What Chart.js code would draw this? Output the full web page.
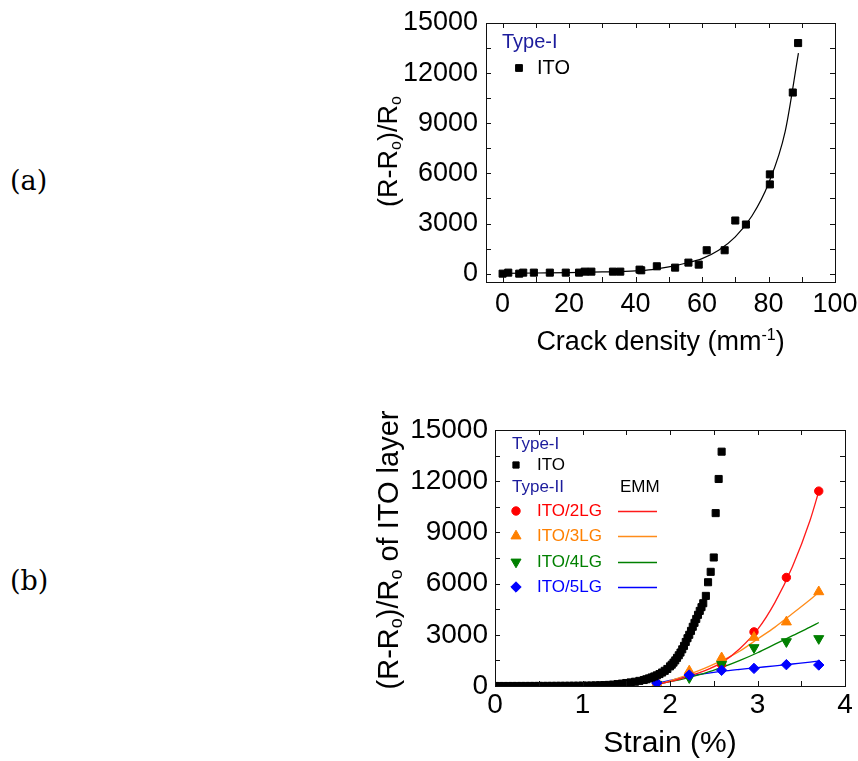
<!DOCTYPE html>
<html>
<head>
<meta charset="utf-8">
<script src="https://cdn.jsdelivr.net/npm/chart.js@4.4.1/dist/chart.umd.min.js"></script>
<style>
  html, body { margin: 0; padding: 0; background: #fff; }
  body { width: 858px; height: 761px; position: relative; overflow: hidden; }
  canvas { position: absolute; }
  #chartA { left: 360px; top: 0; }
  #chartB { left: 360px; top: 380px; }
  .panel { position: absolute; left: 10px; font-family: "DejaVu Serif", serif; font-size: 27px; line-height: 30px; color: #000; }
</style>
</head>
<body>
<div class="panel" style="top:166px">(a)</div>
<div class="panel" style="top:566px">(b)</div>
<canvas id="chartA" width="498" height="370"></canvas>
<canvas id="chartB" width="498" height="381"></canvas>
<script>
// (a) resistance change vs crack density (Type-I, ITO)
const crackDensity = [0, 1.7, 5, 6.2, 9.4, 14.2, 19, 23, 24.7, 26.7, 33.2, 35.4, 41.2, 41.7, 46.4, 51.9, 55.9, 59, 61.4, 66.8, 70, 73.2, 80.4, 80.4, 87.3, 88.9];
const crackResist = [0, 60, 0, 60, 60, 60, 60, 60, 120, 120, 120, 120, 240, 200, 440, 360, 660, 540, 1400, 1400, 3180, 2940, 5940, 5340, 10840, 13800];
const crackFitX = [0, 10, 20, 30, 40, 45, 50, 55, 60, 65, 70, 75, 80, 85, 89];
const crackFitY = [20, 40, 60, 100, 160, 240, 400, 620, 900, 1400, 2200, 3450, 5400, 8500, 13200];

// (b) resistance change of ITO layer vs strain
const strainITO = [0, 0.05, 0.1, 0.15, 0.2, 0.25, 0.3, 0.35, 0.4, 0.45, 0.5, 0.55, 0.6, 0.65, 0.7, 0.75, 0.8, 0.85, 0.9, 0.95, 1.0,
  1.05, 1.1, 1.15, 1.2, 1.25, 1.3, 1.35, 1.4, 1.45, 1.5, 1.55, 1.6, 1.65, 1.7,
  1.73, 1.76, 1.79, 1.82, 1.85, 1.88, 1.91, 1.94, 1.97, 2.0,
  2.02, 2.04, 2.06, 2.08, 2.1, 2.12, 2.14, 2.16, 2.18, 2.2,
  2.22, 2.24, 2.26, 2.28, 2.3, 2.32, 2.34, 2.36, 2.38,
  2.41, 2.435, 2.465, 2.5, 2.522, 2.556, 2.59];
const resistITO = [0, 0, 0, 0, 1, 1, 2, 2, 3, 3, 4, 5, 6, 7, 8, 9, 10, 12, 14, 16, 19,
  23, 28, 34, 42, 52, 64, 80, 110, 140, 175, 210, 250, 300, 350,
  395, 445, 500, 560, 625, 700, 790, 890, 1000, 1150,
  1250, 1370, 1500, 1650, 1800, 1960, 2150, 2350, 2580, 2800,
  3000, 3230, 3470, 3700, 3930, 4170, 4400, 4620, 4850,
  5280, 6080, 6690, 7530, 10130, 12130, 13730];

const strainLG = [1.85, 2.22, 2.59, 2.96, 3.33, 3.70];
const resist2LG = [150, 700, 1250, 3170, 6360, 11420];
const resist3LG = [150, 880, 1650, 2850, 3750, 5520];
const resist4LG = [100, 490, 1270, 2250, 2600, 2780];
const resist5LG = [170, 640, 920, 1030, 1250, 1230];

// EMM curves
const strainFit = [1.85, 2.0, 2.2, 2.4, 2.6, 2.8, 3.0, 3.2, 3.4, 3.6, 3.7];
const emm2LG = [100, 250, 550, 900, 1400, 2200, 3300, 4900, 7000, 9700, 11400];
const emm3LG = [80, 300, 650, 1050, 1500, 2050, 2750, 3450, 4250, 5050, 5500];
const emm4LG = [100, 250, 480, 750, 1100, 1500, 1950, 2450, 2950, 3450, 3720];
const emm5LG = [150, 330, 560, 730, 870, 980, 1080, 1180, 1290, 1400, 1460];

// ticks
const crackTicks = [0, 20, 40, 60, 80, 100];
const crackMinor = [10, 30, 50, 70, 90];
const resistTicks = [0, 3000, 6000, 9000, 12000, 15000];
const resistMinor = [1500, 4500, 7500, 10500, 13500];
const strainTicks = [0, 1, 2, 3, 4];
const strainMinor = [0.5, 1.5, 2.5, 3.5];

const FONT = '"Liberation Sans", Arial, Helvetica, sans-serif';
Chart.defaults.font.family = FONT;
Chart.defaults.color = '#000';

const pts = (xs, ys) => xs.map((x, i) => ({ x, y: ys[i] }));

// frame round the plot with inward ticks on all four sides
function framePlugin(xMajor, xMinor, yMajor, yMinor) {
  return {
    id: 'frame',
    afterDraw(chart) {
      const { ctx, chartArea: a, scales: { x, y } } = chart;
      const L = Math.round(a.left), T = Math.round(a.top), R = Math.round(a.right), B = Math.round(a.bottom);
      const len = 5;
      ctx.save();
      ctx.strokeStyle = '#111';
      ctx.lineWidth = 1;
      ctx.strokeRect(L + 0.5, T + 0.5, R - L, B - T);
      ctx.beginPath();
      xMajor.concat(xMinor).forEach(v => {
        const px = Math.round(x.getPixelForValue(v)) + 0.5;
        if (px < L + 2 || px > R - 1) return;
        ctx.moveTo(px, B); ctx.lineTo(px, B - len);
        ctx.moveTo(px, T); ctx.lineTo(px, T + len);
      });
      yMajor.concat(yMinor).forEach(v => {
        const py = Math.round(y.getPixelForValue(v)) + 0.5;
        if (py < T + 2 || py > B - 1) return;
        ctx.moveTo(L, py); ctx.lineTo(L + len, py);
        ctx.moveTo(R, py); ctx.lineTo(R - len, py);
      });
      ctx.stroke();
      ctx.restore();
    }
  };
}

// text with sub/superscripts: runs of {t, size, dy}
function drawRich(ctx, runs, x, y, angle, size) {
  ctx.save();
  ctx.translate(x, y);
  ctx.rotate(angle);
  let total = 0;
  runs.forEach(r => {
    ctx.font = (r.size || size) + 'px ' + FONT;
    r.w = ctx.measureText(r.t).width;
    total += r.w;
  });
  let cx = -total / 2;
  const base = 0.358 * size;
  ctx.textAlign = 'left';
  ctx.textBaseline = 'alphabetic';
  ctx.fillStyle = '#000';
  runs.forEach(r => {
    ctx.font = (r.size || size) + 'px ' + FONT;
    ctx.fillText(r.t, cx, base + (r.dy || 0));
    cx += r.w;
  });
  ctx.restore();
}

function titlePlugin(xRuns, xSize, xOff, yRuns, ySize, yX, yOff) {
  return {
    id: 'titles',
    afterDraw(chart) {
      const { ctx, chartArea: a } = chart;
      drawRich(ctx, xRuns, (a.left + a.right) / 2, a.bottom + xOff, 0, xSize);
      drawRich(ctx, yRuns, yX, (a.top + a.bottom) / 2 + yOff, -Math.PI / 2, ySize);
    }
  };
}

function marker(ctx, style, r, rot, color, x, y) {
  ctx.fillStyle = color;
  ctx.strokeStyle = color;
  ctx.lineWidth = 1;
  Chart.helpers.drawPoint(ctx, { pointStyle: style, radius: r, rotation: rot, borderWidth: 1 }, x, y);
}

function legendPlugin(items) {
  return {
    id: 'legendBox',
    afterDraw(chart) {
      const ctx = chart.ctx;
      ctx.save();
      ctx.textAlign = 'left';
      ctx.textBaseline = 'middle';
      items.forEach(it => {
        if (it.text) {
          ctx.font = it.size + 'px ' + FONT;
          ctx.fillStyle = it.color;
          ctx.fillText(it.text, it.x, it.y);
        }
        if (it.marker) marker(ctx, it.marker[0], it.marker[1], it.marker[2], it.marker[3], it.mx, it.y);
        if (it.line) {
          ctx.strokeStyle = it.line[2];
          ctx.lineWidth = 1.3;
          ctx.beginPath();
          ctx.moveTo(it.line[0], it.y + 0.5);
          ctx.lineTo(it.line[1], it.y + 0.5);
          ctx.stroke();
        }
      });
      ctx.restore();
    }
  };
}

function axis(min, max, ticks, size, pad, fitKey, fitVal) {
  return {
    type: 'linear', min, max,
    grid: { display: false, drawTicks: false },
    border: { display: false },
    ticks: { font: { size, lineHeight: 1.2 }, color: '#000', padding: pad, autoSkip: false, maxRotation: 0, minRotation: 0, callback: v => String(v) },
    afterBuildTicks: s => { s.ticks = ticks.map(v => ({ value: v })); },
    afterFit: s => {
      s[fitKey] = fitVal;
      // labels may run past the plot edge, as in the original
      s.paddingLeft = s.paddingRight = s.paddingTop = s.paddingBottom = 0;
    }
  };
}

const NAVY = '#1c1c9c';

// (a)
new Chart(document.getElementById('chartA'), {
  type: 'scatter',
  data: {
    datasets: [
      { label: 'ITO', data: pts(crackDensity, crackResist), pointStyle: 'rect', pointRadius: 5,
        backgroundColor: '#000', borderColor: '#000', borderWidth: 1, order: 0 },
      { label: 'fit', data: pts(crackFitX, crackFitY), showLine: true, pointRadius: 0, borderColor: '#000',
        borderWidth: 1.2, cubicInterpolationMode: 'monotone', order: 5 }
    ]
  },
  options: {
    responsive: false, animation: false, events: [],
    layout: { padding: { left: 0, top: 23, right: 23, bottom: 0 } },
    plugins: { legend: { display: false }, tooltip: { enabled: false } },
    scales: {
      x: axis(-5, 100, crackTicks, 27, 6, 'height', 88),
      y: axis(-500, 15000, resistTicks, 27, 8, 'width', 126)
    }
  },
  plugins: [
    framePlugin(crackTicks, crackMinor, resistTicks, resistMinor),
    titlePlugin([{ t: 'Crack density (mm' }, { t: '-1', size: 16, dy: -10 }, { t: ')' }], 27, 58,
      [{ t: '(R-R' }, { t: 'o', size: 16, dy: 4 }, { t: ')/R' }, { t: 'o', size: 16, dy: 4 }], 27, 27, -1),
    legendPlugin([
      { text: 'Type-I', x: 142, y: 42, size: 20, color: NAVY },
      { text: 'ITO', x: 177, y: 68, size: 20, color: '#000', marker: ['rect', 4.8, 0, '#000'], mx: 159 }
    ])
  ]
});

// (b)
const lgSet = (label, xs, ys, style, r, rot, color, order) => ({
  label, data: pts(xs, ys), pointStyle: style, pointRadius: r, rotation: rot,
  backgroundColor: color, borderColor: color, borderWidth: 1, order
});
const emmSet = (label, ys, color) => ({
  label, data: pts(strainFit, ys), showLine: true, pointRadius: 0, borderColor: color,
  borderWidth: 1.3, cubicInterpolationMode: 'monotone', order: 10
});

new Chart(document.getElementById('chartB'), {
  type: 'scatter',
  data: {
    datasets: [
      lgSet('ITO', strainITO, resistITO, 'rect', 5, 0, '#000', 0),
      lgSet('ITO/5LG', strainLG, resist5LG, 'rectRot', 5.2, 0, '#0000ff', 1),
      lgSet('ITO/4LG', strainLG, resist4LG, 'triangle', 5.8, 180, '#008000', 2),
      lgSet('ITO/3LG', strainLG, resist3LG, 'triangle', 5.8, 0, '#ff8000', 3),
      lgSet('ITO/2LG', strainLG, resist2LG, 'circle', 4.2, 0, '#ff0000', 4),
      emmSet('EMM 2LG', emm2LG, '#ff1a1a'),
      emmSet('EMM 3LG', emm3LG, '#ff8c1a'),
      emmSet('EMM 4LG', emm4LG, '#008000'),
      emmSet('EMM 5LG', emm5LG, '#0000ff')
    ]
  },
  options: {
    responsive: false, animation: false, events: [],
    layout: { padding: { left: 0, top: 50, right: 13, bottom: 0 } },
    plugins: { legend: { display: false }, tooltip: { enabled: false } },
    scales: {
      x: axis(0, 4, strainTicks, 28, 2, 'height', 75),
      y: axis(0, 15000, resistTicks, 28, 7, 'width', 135)
    }
  },
  plugins: [
    framePlugin(strainTicks, strainMinor, resistTicks, resistMinor),
    titlePlugin([{ t: 'Strain (%)' }], 30, 55,
      [{ t: '(R-R' }, { t: 'o', size: 18, dy: 4 }, { t: ')/R' }, { t: 'o', size: 18, dy: 4 }, { t: ' of ITO layer' }], 29, 28, -8),
    legendPlugin([
      { text: 'Type-I', x: 152, y: 64, size: 17, color: NAVY },
      { text: 'ITO', x: 177, y: 85, size: 17, color: '#000', marker: ['rect', 4.4, 0, '#000'], mx: 156 },
      { text: 'Type-II', x: 152, y: 107, size: 17, color: NAVY },
      { text: 'EMM', x: 260, y: 107, size: 17, color: '#000' },
      { text: 'ITO/2LG', x: 177, y: 131, size: 17, color: '#ff0000', marker: ['circle', 4.2, 0, '#ff0000'], mx: 156, line: [258, 297, '#ff1a1a'] },
      { text: 'ITO/3LG', x: 177, y: 156, size: 17, color: '#ff8000', marker: ['triangle', 5.8, 0, '#ff8000'], mx: 156, line: [258, 297, '#ff8c1a'] },
      { text: 'ITO/4LG', x: 177, y: 182, size: 17, color: '#008000', marker: ['triangle', 5.8, 180, '#008000'], mx: 156, line: [258, 297, '#008000'] },
      { text: 'ITO/5LG', x: 177, y: 207, size: 17, color: '#0000ff', marker: ['rectRot', 5.2, 0, '#0000ff'], mx: 156, line: [258, 297, '#0000ff'] }
    ])
  ]
});
</script>
</body>
</html>
